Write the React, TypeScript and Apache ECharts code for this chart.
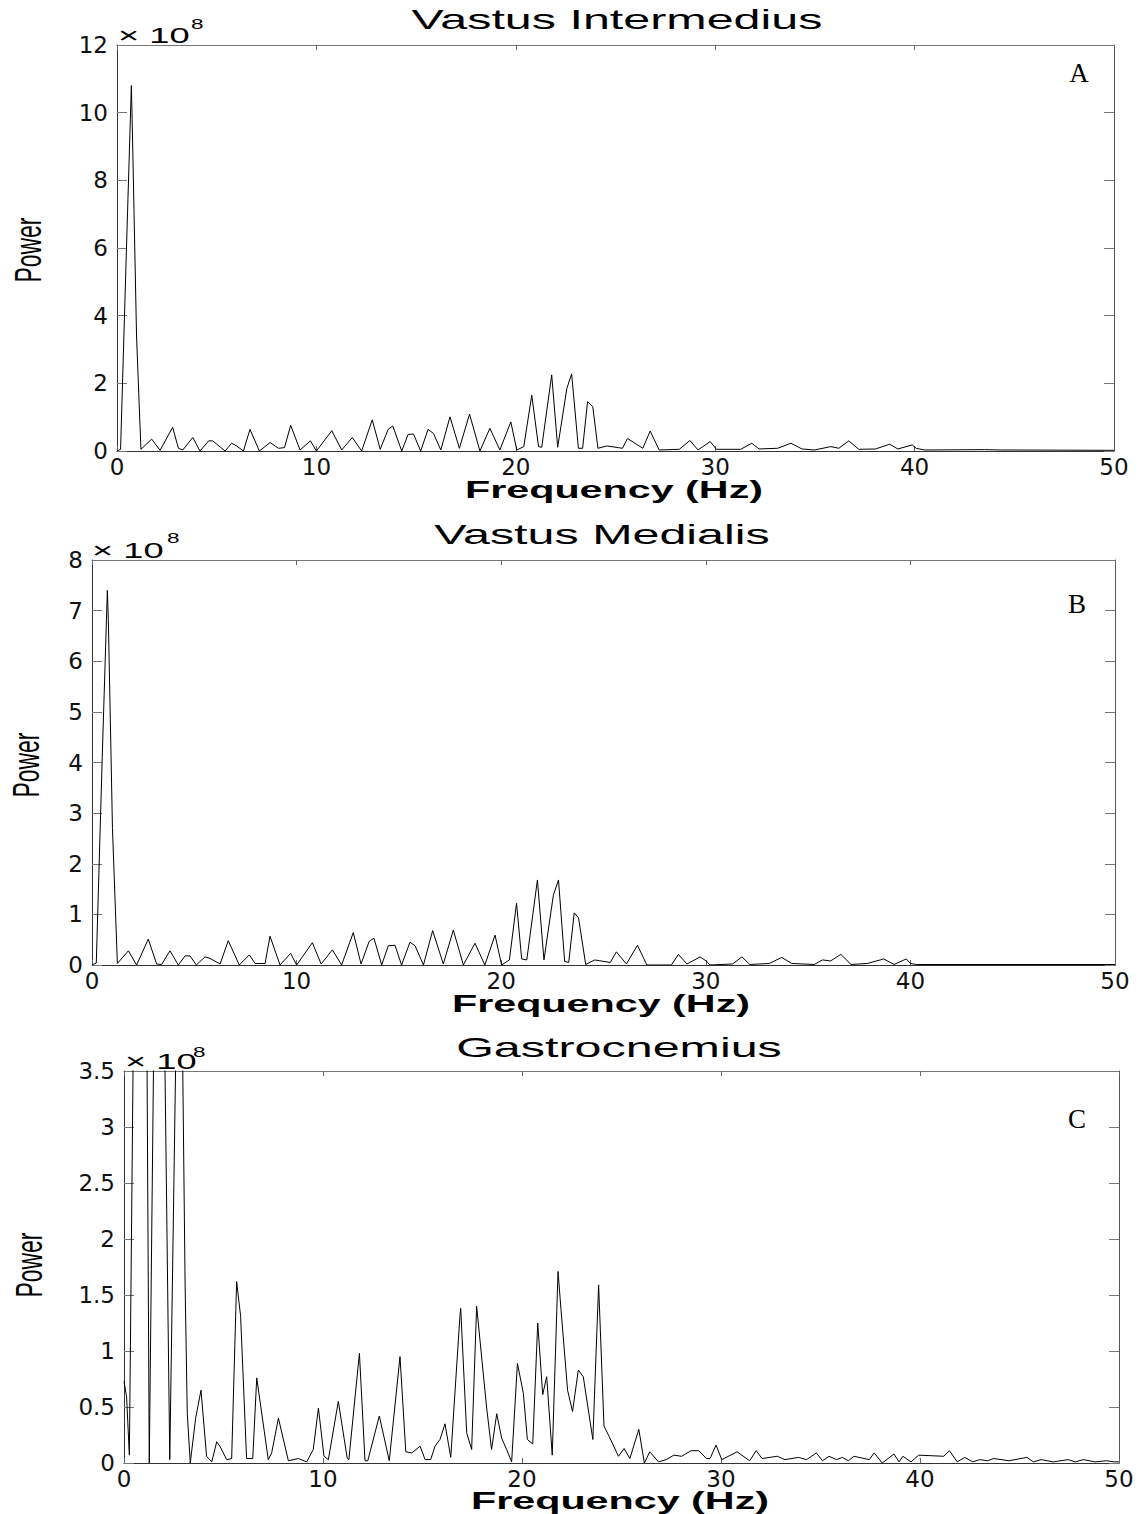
import React, { useEffect, useRef } from "react";
import * as echarts from "echarts";

// Power spectra (units of 1e8) sampled at the vertices of each trace.
const freqA = [
  0, 0.18, 0.45, 0.72, 0.76, 0.98, 1.2, 1.74, 2.16, 2.79, 3.08, 3.3, 3.8, 4.16, 4.6, 4.8, 5.42, 5.75, 6.0, 6.34,
  6.67, 7.14, 7.68, 8.1, 8.4, 8.71, 9.18, 9.7, 10.0, 10.77, 11.27, 11.8, 12.27, 12.8, 13.2, 13.6, 13.83, 14.28,
  14.6, 14.87, 15.23, 15.6, 15.87, 16.24, 16.7, 17.17, 17.68, 18.2, 18.7, 19.2, 19.75, 20.05, 20.4, 20.8, 21.14,
  21.3, 21.8, 22.1, 22.56, 22.8, 23.14, 23.35, 23.6, 23.86, 24.12, 24.57, 25.35, 25.6, 26.37, 26.74, 27.19, 28.2,
  28.73, 29.14, 29.75, 30.06, 31.28, 31.84, 32.2, 33.13, 33.8, 34.35, 34.97, 35.8, 36.2, 36.7, 37.2, 38.04, 38.75,
  39.16, 39.88, 40.08, 40.5, 43.5, 44.3, 50,
];
const powerA = [
  0, 0.05, 5.5, 10.8, 9.8, 3.4, 0.05, 0.35, 0.02, 0.7, 0.08, 0.03, 0.4, 0.0, 0.3, 0.3, 0.0, 0.23, 0.15, 0.0,
  0.64, 0.0, 0.25, 0.08, 0.1, 0.76, 0.03, 0.3, 0.0, 0.6, 0.03, 0.4, 0.0, 0.92, 0.05, 0.64, 0.74, 0.0,
  0.49, 0.5, 0.0, 0.64, 0.52, 0.03, 1.01, 0.08, 1.09, 0.0, 0.67, 0.03, 0.86, 0.03, 0.13, 1.65, 0.13,
  0.11, 2.25, 0.11, 1.85, 2.28, 0.08, 0.08, 1.46, 1.31, 0.08, 0.15, 0.08, 0.37, 0.08, 0.59, 0.03, 0.05,
  0.31, 0.03, 0.28, 0.05, 0.05, 0.23, 0.06, 0.08, 0.23, 0.06, 0.03, 0.13, 0.08, 0.3, 0.05, 0.06, 0.2,
  0.06, 0.18, 0.08, 0.03, 0.04, 0.03, 0.02,
];

const freqB = [
  0, 0.21, 0.5, 0.75, 0.8, 1.0, 1.24, 1.78, 2.18, 2.75, 3.16, 3.4, 3.81, 4.22, 4.55, 4.79, 5.1, 5.52, 5.77, 6.26,
  6.66, 7.2, 7.69, 7.97, 8.46, 8.7, 9.19, 9.71, 10.0, 10.77, 11.2, 11.75, 12.2, 12.77, 13.15, 13.55, 13.78, 14.16,
  14.48, 14.81, 15.13, 15.54, 15.79, 16.2, 16.65, 17.17, 17.66, 18.15, 18.72, 19.2, 19.7, 20.02, 20.4, 20.75,
  21.0, 21.25, 21.77, 22.09, 22.55, 22.8, 23.1, 23.3, 23.57, 23.78, 24.13, 24.57, 25.33, 25.63, 26.12, 26.66,
  27.12, 28.32, 28.66, 29.08, 29.72, 30.02, 30.2, 31.31, 31.77, 32.15, 33.1, 33.71, 34.2, 35.3, 35.7, 36.1,
  36.6, 37.1, 37.9, 38.7, 39.2, 39.8, 40.0, 40.3, 50,
];
const powerB = [
  0, 0.04, 4.1, 7.4, 6.8, 2.7, 0.03, 0.28, 0.0, 0.51, 0.02, 0.01, 0.28, 0.0, 0.18, 0.18, 0.0, 0.16, 0.13, 0.02,
  0.48, 0.0, 0.2, 0.03, 0.03, 0.57, 0.0, 0.23, 0.0, 0.44, 0.02, 0.3, 0.0, 0.64, 0.02, 0.47, 0.53, 0.0,
  0.38, 0.39, 0.0, 0.45, 0.38, 0.0, 0.68, 0.02, 0.69, 0.0, 0.43, 0.0, 0.59, 0.0, 0.1, 1.22,
  0.12, 0.1, 1.68, 0.1, 1.38, 1.68, 0.07, 0.05, 1.03, 0.93, 0.01, 0.1, 0.05, 0.26, 0.02, 0.39,
  0.0, 0.0, 0.21, 0.02, 0.16, 0.08, 0.0, 0.02, 0.16, 0.01, 0.03, 0.15, 0.03, 0.01, 0.1, 0.08,
  0.21, 0.01, 0.03, 0.12, 0.01, 0.12, 0.03, 0.01, 0.01,
];

const freqC = [
  0, 0.13, 0.27, 0.75, 1.05, 1.27, 1.75, 2.3, 2.8, 3.07, 3.18, 3.33, 3.6, 3.87, 4.15, 4.41, 4.66, 4.82, 5.16,
  5.41, 5.66, 5.86, 6.16, 6.47, 6.67, 7.25, 7.42, 7.76, 8.26, 8.76, 9.18, 9.51, 9.77, 10.05, 10.27, 10.77, 11.22,
  11.3, 11.83, 12.11, 12.25, 12.83, 13.33, 13.87, 14.16, 14.46, 14.88, 15.13, 15.41, 15.63, 15.88, 16.13, 16.42,
  16.88, 16.92, 17.22, 17.47, 17.72, 18.22, 18.47, 18.73, 18.98, 19.23, 19.48, 19.77, 20.07, 20.27, 20.54, 20.79,
  21.04, 21.24, 21.52, 21.81, 21.96, 22.29, 22.54, 22.83, 23.08, 23.31, 23.56, 23.85, 24.12, 24.37, 24.85, 25.13,
  25.42, 25.87, 26.15, 26.42, 26.86, 27.25, 27.63, 28.02, 28.5, 28.88, 29.27, 29.45, 29.75, 30.04, 30.81, 31.44,
  31.77, 32.06, 32.83, 33.21, 33.89, 34.3, 34.79, 35.1, 35.43, 35.8, 36.1, 36.4, 36.68, 37.45, 37.7, 38.1, 38.69,
  38.95, 39.14, 39.55, 39.94, 41.19, 41.48, 41.87, 42.25, 42.65, 43.0, 43.4, 43.7, 44.47, 45.37, 45.7, 46.09,
  46.7, 47.44, 47.8, 48.21, 48.8, 49.37, 49.75, 50,
];
const powerC = [
  0.73, 0.59, 0.07, 9.0, 7.0, 0.0, 8.0, 0.03, 6.0, 1.6, 0.44, 0.0, 0.4, 0.65, 0.06, 0.01, 0.19, 0.15, 0.03,
  0.04, 1.62, 1.31, 0.04, 0.04, 0.76, 0.03, 0.09, 0.4, 0.02, 0.04, 0.01, 0.12, 0.49, 0.06, 0.03, 0.55, 0.04,
  0.03, 0.98, 0.02, 0.02, 0.42, 0.02, 0.95, 0.1, 0.09, 0.15, 0.03, 0.03, 0.15, 0.21, 0.35, 0.05,
  1.31, 1.38, 0.27, 0.12, 1.4, 0.5, 0.12, 0.44, 0.22, 0.12, 0.01, 0.89, 0.62, 0.21, 0.17, 1.25,
  0.61, 0.77, 0.07, 1.71, 1.37, 0.65, 0.46, 0.83, 0.77, 0.5, 0.21, 1.59, 0.33, 0.24, 0.06, 0.13,
  0.04, 0.3, 0.0, 0.1, 0.01, 0.03, 0.07, 0.06, 0.11, 0.11, 0.04, 0.04, 0.16, 0.03, 0.1, 0.02,
  0.11, 0.04, 0.06, 0.03, 0.05, 0.03, 0.09, 0.02, 0.06, 0.03, 0.05, 0.02, 0.06, 0.03, 0.09, 0.0, 0.08,
  0.01, 0.06, 0.01, 0.07, 0.06, 0.11, 0.01, 0.05, 0.01, 0.03, 0.02, 0.04, 0.02, 0.05, 0.01, 0.03,
  0.01, 0.03, 0.01, 0.03, 0.01, 0.02, 0.01, 0.01,
];

const titles = ["Vastus Intermedius", "Vastus Medialis", "Gastrocnemius"];
const letters = ["A", "B", "C"];
const yMaxes = [12, 8, 3.5];
const ySteps = [2, 1, 0.5];
const xMin = 0;
const xMax = 50;
const xStep = 10;
const xName = "Frequency (Hz)";
const yName = "Power";
const exponentBase = "\u00d7 10";
const exponent = "8";

// Panel layout in page pixels
const layout = [
  { left: 117, top: 45, width: 997, height: 406, titleX: 617, titleY: 19, nameX: 614, nameY: 489, powerX: 28, powerY: 250, letterX: 1079, letterY: 73 },
  { left: 92, top: 560, width: 1023, height: 405, titleX: 602, titleY: 534, nameX: 601, nameY: 1003, powerX: 26, powerY: 765, letterX: 1077, letterY: 604 },
  { left: 124, top: 1071, width: 995, height: 392, titleX: 619, titleY: 1047, nameX: 620, nameY: 1500, powerX: 29, powerY: 1265, letterX: 1077, letterY: 1119 },
];
const exponentPos = [
  { x: 118, y: 35, sx: 191, sy: 24 },
  { x: 92, y: 550, sx: 167, sy: 538 },
  { x: 125, y: 1061, sx: 193, sy: 1052 },
];

const series = [
  { freq: freqA, power: powerA },
  { freq: freqB, power: powerB },
  { freq: freqC, power: powerC },
];

const SANS = "Liberation Sans, Arial, Helvetica, sans-serif";
const TICK_FONT = "DejaVu Sans, Verdana, sans-serif";

function buildOption() {
  const grid: any[] = [];
  const xAxis: any[] = [];
  const yAxis: any[] = [];
  const lines: any[] = [];
  const graphic: any[] = [];

  layout.forEach((g, i) => {
    grid.push({ left: g.left, top: g.top, width: g.width, height: g.height, containLabel: false });
    const boxLine = { show: true, onZero: false, lineStyle: { color: "#333", width: 1 } };
    xAxis.push({
      type: "value", gridIndex: i, position: "bottom", min: xMin, max: xMax, interval: xStep,
      axisLine: boxLine,
      axisTick: { show: true, inside: true, length: 5, lineStyle: { color: "#666" } },
      axisLabel: { show: true, margin: 4, fontSize: 23, fontFamily: TICK_FONT, color: "#111", showMinLabel: true, showMaxLabel: true },
      splitLine: { show: false },
    });
    xAxis.push({
      type: "value", gridIndex: i, position: "top", min: xMin, max: xMax, interval: xStep,
      axisLine: { ...boxLine, lineStyle: { color: "#777", width: 1 } },
      axisTick: { show: true, inside: true, length: 5, lineStyle: { color: "#666" } },
      axisLabel: { show: false },
      splitLine: { show: false },
    });
    yAxis.push({
      type: "value", gridIndex: i, position: "left", min: 0, max: yMaxes[i], interval: ySteps[i],
      axisLine: boxLine,
      axisTick: { show: true, inside: true, length: 10, lineStyle: { color: "#777" } },
      axisLabel: { show: true, margin: 9, fontSize: 23, fontFamily: TICK_FONT, color: "#111", showMinLabel: true, showMaxLabel: true },
      splitLine: { show: false },
    });
    yAxis.push({
      type: "value", gridIndex: i, position: "right", min: 0, max: yMaxes[i], interval: ySteps[i],
      axisLine: { ...boxLine, lineStyle: { color: "#555", width: 1 } },
      axisTick: { show: true, inside: true, length: 10, lineStyle: { color: "#777" } },
      axisLabel: { show: false },
      splitLine: { show: false },
    });

    const s = series[i];
    lines.push({
      type: "line",
      xAxisIndex: i * 2,
      yAxisIndex: i * 2,
      data: s.freq.map((f, k) => [f, s.power[k]]),
      showSymbol: false,
      symbol: "none",
      clip: true,
      lineStyle: { color: "#000", width: 1 },
      silent: true,
    });

    graphic.push({
      type: "text", x: g.titleX, y: g.titleY, scaleX: 1.73,
      style: { text: titles[i], font: `normal 28px ${SANS}`, fill: "#000", textAlign: "center", textVerticalAlign: "middle" },
    });
    graphic.push({
      type: "text", x: g.nameX, y: g.nameY, scaleX: 1.72,
      style: { text: xName, font: `bold 24px ${SANS}`, fill: "#000", textAlign: "center", textVerticalAlign: "middle" },
    });
    graphic.push({
      type: "text", x: g.powerX, y: g.powerY, rotation: Math.PI / 2, scaleX: 0.62,
      style: { text: yName, font: `normal 37px ${SANS}`, fill: "#000", textAlign: "center", textVerticalAlign: "middle" },
    });
    graphic.push({
      type: "text", x: g.letterX, y: g.letterY,
      style: { text: letters[i], font: `normal 27px Liberation Serif, Times New Roman, serif`, fill: "#000", textAlign: "center", textVerticalAlign: "middle" },
    });
    const e = exponentPos[i];
    graphic.push({
      type: "text", x: e.x, y: e.y, scaleX: 1.65,
      style: { text: exponentBase, font: `normal 22px ${SANS}`, fill: "#000", textAlign: "left", textVerticalAlign: "middle" },
    });
    graphic.push({
      type: "text", x: e.sx, y: e.sy, scaleX: 1.5,
      style: { text: exponent, font: `normal 15px ${SANS}`, fill: "#000", textAlign: "left", textVerticalAlign: "middle" },
    });
  });

  return {
    animation: false,
    backgroundColor: "#fff",
    grid,
    xAxis,
    yAxis,
    series: lines,
    graphic,
  };
}

export default function App() {
  const ref = useRef<HTMLDivElement>(null);

  useEffect(() => {
    document.body.style.margin = "0";
    if (!ref.current) return;
    const chart = echarts.init(ref.current, undefined, { renderer: "svg" });
    chart.setOption(buildOption());
    return () => chart.dispose();
  }, []);

  return <div ref={ref} style={{ width: 1148, height: 1514, background: "#fff" }} />;
}
